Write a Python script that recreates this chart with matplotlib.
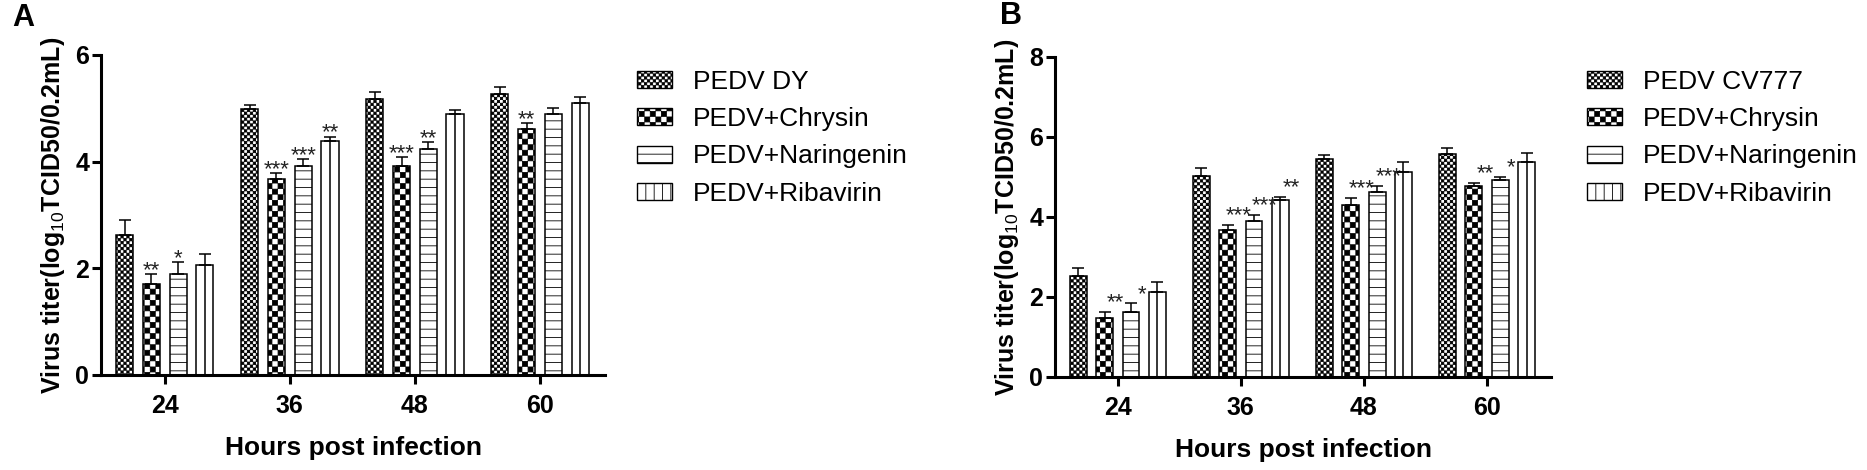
import numpy as np
import matplotlib
matplotlib.use('Agg')
import matplotlib.pyplot as plt
import matplotlib.hatch as mhatch
from matplotlib.path import Path
from matplotlib.patches import Patch

# ---------------- data ----------------
hours = ['24', '36', '48', '60']

labels_a = ['PEDV DY', 'PEDV+Chrysin', 'PEDV+Naringenin', 'PEDV+Ribavirin']
labels_b = ['PEDV CV777', 'PEDV+Chrysin', 'PEDV+Naringenin', 'PEDV+Ribavirin']

# panel A (log10 TCID50/0.2mL), mean and SD
a_virus = [2.63, 4.99, 5.18, 5.27]
a_virus_sd = [0.27, 0.07, 0.12, 0.13]
a_chrysin = [1.71, 3.68, 3.92, 4.62]
a_chrysin_sd = [0.19, 0.10, 0.17, 0.10]
a_naringenin = [1.90, 3.92, 4.24, 4.90]
a_naringenin_sd = [0.22, 0.13, 0.12, 0.10]
a_ribavirin = [2.07, 4.39, 4.90, 5.10]
a_ribavirin_sd = [0.20, 0.08, 0.07, 0.12]

# panel B
b_virus = [2.53, 5.02, 5.45, 5.57]
b_virus_sd = [0.19, 0.20, 0.10, 0.15]
b_chrysin = [1.48, 3.68, 4.30, 4.77]
b_chrysin_sd = [0.15, 0.12, 0.18, 0.08]
b_naringenin = [1.62, 3.90, 4.62, 4.92]
b_naringenin_sd = [0.22, 0.15, 0.16, 0.08]
b_ribavirin = [2.13, 4.42, 5.13, 5.37]
b_ribavirin_sd = [0.25, 0.08, 0.24, 0.23]

# significance marks
a_stars = [['', '', '', ''],
           ['**', '***', '***', '**'],
           ['*', '***', '**', ''],
           ['', '**', '', '']]
b_stars = [['', '', '', ''],
           ['**', '***', '***', '**'],
           ['*', '***', '***', '*'],
           ['', '**', '', '']]


# checkerboard hatch ('o' fine, 'O' coarse), graphpad style
class CheckerHatch(mhatch.HatchPatternBase):
    def __init__(self, hatch, density):
        if 'o' in hatch:
            self.cells = 34
        elif 'O' in hatch:
            self.cells = 18
        else:
            self.cells = 0
        self.num_vertices = (self.cells ** 2 // 2) * 5

    def set_vertices_and_codes(self, vertices, codes):
        n = self.cells
        step = 1.0 / n
        pad = 0.003
        k = 0
        for i in range(n):
            for j in range(n):
                if (i + j) % 2:
                    continue
                x0, y0 = i * step + pad, j * step + pad
                x1, y1 = (i + 1) * step - pad, (j + 1) * step - pad
                vertices[k:k + 5] = [(x0, y0), (x1, y0), (x1, y1), (x0, y1), (x0, y0)]
                codes[k:k + 5] = [Path.MOVETO, Path.LINETO, Path.LINETO,
                                  Path.LINETO, Path.CLOSEPOLY]
                k += 5


mhatch._hatch_types[:] = [mhatch.HorizontalHatch, mhatch.VerticalHatch, CheckerHatch]

plt.rcParams['font.family'] = ['Liberation Sans', 'DejaVu Sans']
plt.rcParams['mathtext.fontset'] = 'custom'
plt.rcParams['mathtext.rm'] = 'Liberation Sans'
plt.rcParams['mathtext.bf'] = 'Liberation Sans:bold'
plt.rcParams['hatch.linewidth'] = 0.6
plt.rcParams['hatch.color'] = 'black'

bar_hatch = ['o', 'O', '--', '']
legend_hatch = ['o', 'O', '--', '||']
pitch = 0.214
width = 0.137

W, H = 1867, 470
fig = plt.figure(figsize=(W / 100, H / 100), dpi=100)


def draw_panel(ax, means, sds, stars, names, ymax, star_off, legend_xy):
    x = np.arange(len(hours))
    for i in range(len(means)):
        pos = x + (i - 1.5) * pitch
        ax.bar(pos, means[i], width, facecolor='white', edgecolor='black',
               linewidth=1.1, hatch=bar_hatch[i], zorder=2)
        if i == 3:
            ax.vlines(pos, 0, means[i], colors='black', linewidth=1.1, zorder=3)
        ax.errorbar(pos, means[i], yerr=[np.zeros(len(hours)), sds[i]], fmt='none',
                    ecolor='black', elinewidth=1.1, capsize=4, capthick=1.1, zorder=3)
        for p, m, s, t in zip(pos, means[i], sds[i], stars[i]):
            if t:
                ax.annotate(t, (p, m + s), xytext=star_off, textcoords='offset points',
                            ha='center', va='center', fontsize=16, color='#222222')

    ax.set_xlim(-0.51, 3.52)
    ax.set_ylim(0, ymax)
    ax.set_yticks(range(0, ymax + 1, 2))
    ax.set_xticks(x)
    ax.set_xticklabels(hours)
    for side in ['top', 'right']:
        ax.spines[side].set_visible(False)
    for side in ['left', 'bottom']:
        ax.spines[side].set_linewidth(2.2)
    ax.tick_params(axis='both', direction='out', length=6.5, width=2.2,
                   labelsize=18)
    ax.tick_params(axis='x', pad=7)
    ax.tick_params(axis='y', pad=2)
    for lab in ax.get_xticklabels() + ax.get_yticklabels():
        lab.set_fontweight('bold')
    ax.set_xlabel('Hours post infection', fontsize=19, fontweight='bold', labelpad=13)
    ax.set_ylabel(r'Virus titer(log$_{\mathrm{10}}$TCID50/0.2mL)', fontsize=18,
                  fontweight='bold', labelpad=6)

    handles = [Patch(facecolor='white', edgecolor='black', linewidth=1.0, hatch=h)
               for h in legend_hatch]
    ax.legend(handles, names, loc='upper left', bbox_to_anchor=legend_xy,
              bbox_transform=fig.transFigure, frameon=False, fontsize=19,
              handlelength=1.33, handleheight=0.61, handletextpad=0.8,
              labelspacing=0.5, borderpad=0, borderaxespad=0)


ax_a = fig.add_axes([101 / W, 1 - 375 / H, 504 / W, 320 / H])
draw_panel(ax_a,
           [a_virus, a_chrysin, a_naringenin, a_ribavirin],
           [a_virus_sd, a_chrysin_sd, a_naringenin_sd, a_ribavirin_sd],
           a_stars, labels_a, 6, (0, 2.5), (637 / W, 1 - 70 / H))

ax_b = fig.add_axes([1055 / W, 1 - 377 / H, 496 / W, 320 / H])
draw_panel(ax_b,
           [b_virus, b_chrysin, b_naringenin, b_ribavirin],
           [b_virus_sd, b_chrysin_sd, b_naringenin_sd, b_ribavirin_sd],
           b_stars, labels_b, 8, (8, 6.5), (1587 / W, 1 - 70 / H))

fig.text(12 / W, 1 - 18 / H, 'A', fontsize=22, fontweight='bold', va='center', ha='left')
fig.text(1000 / W, 1 - 16 / H, 'B', fontsize=22, fontweight='bold', va='center', ha='left')

fig.savefig('out.png', dpi=100)
